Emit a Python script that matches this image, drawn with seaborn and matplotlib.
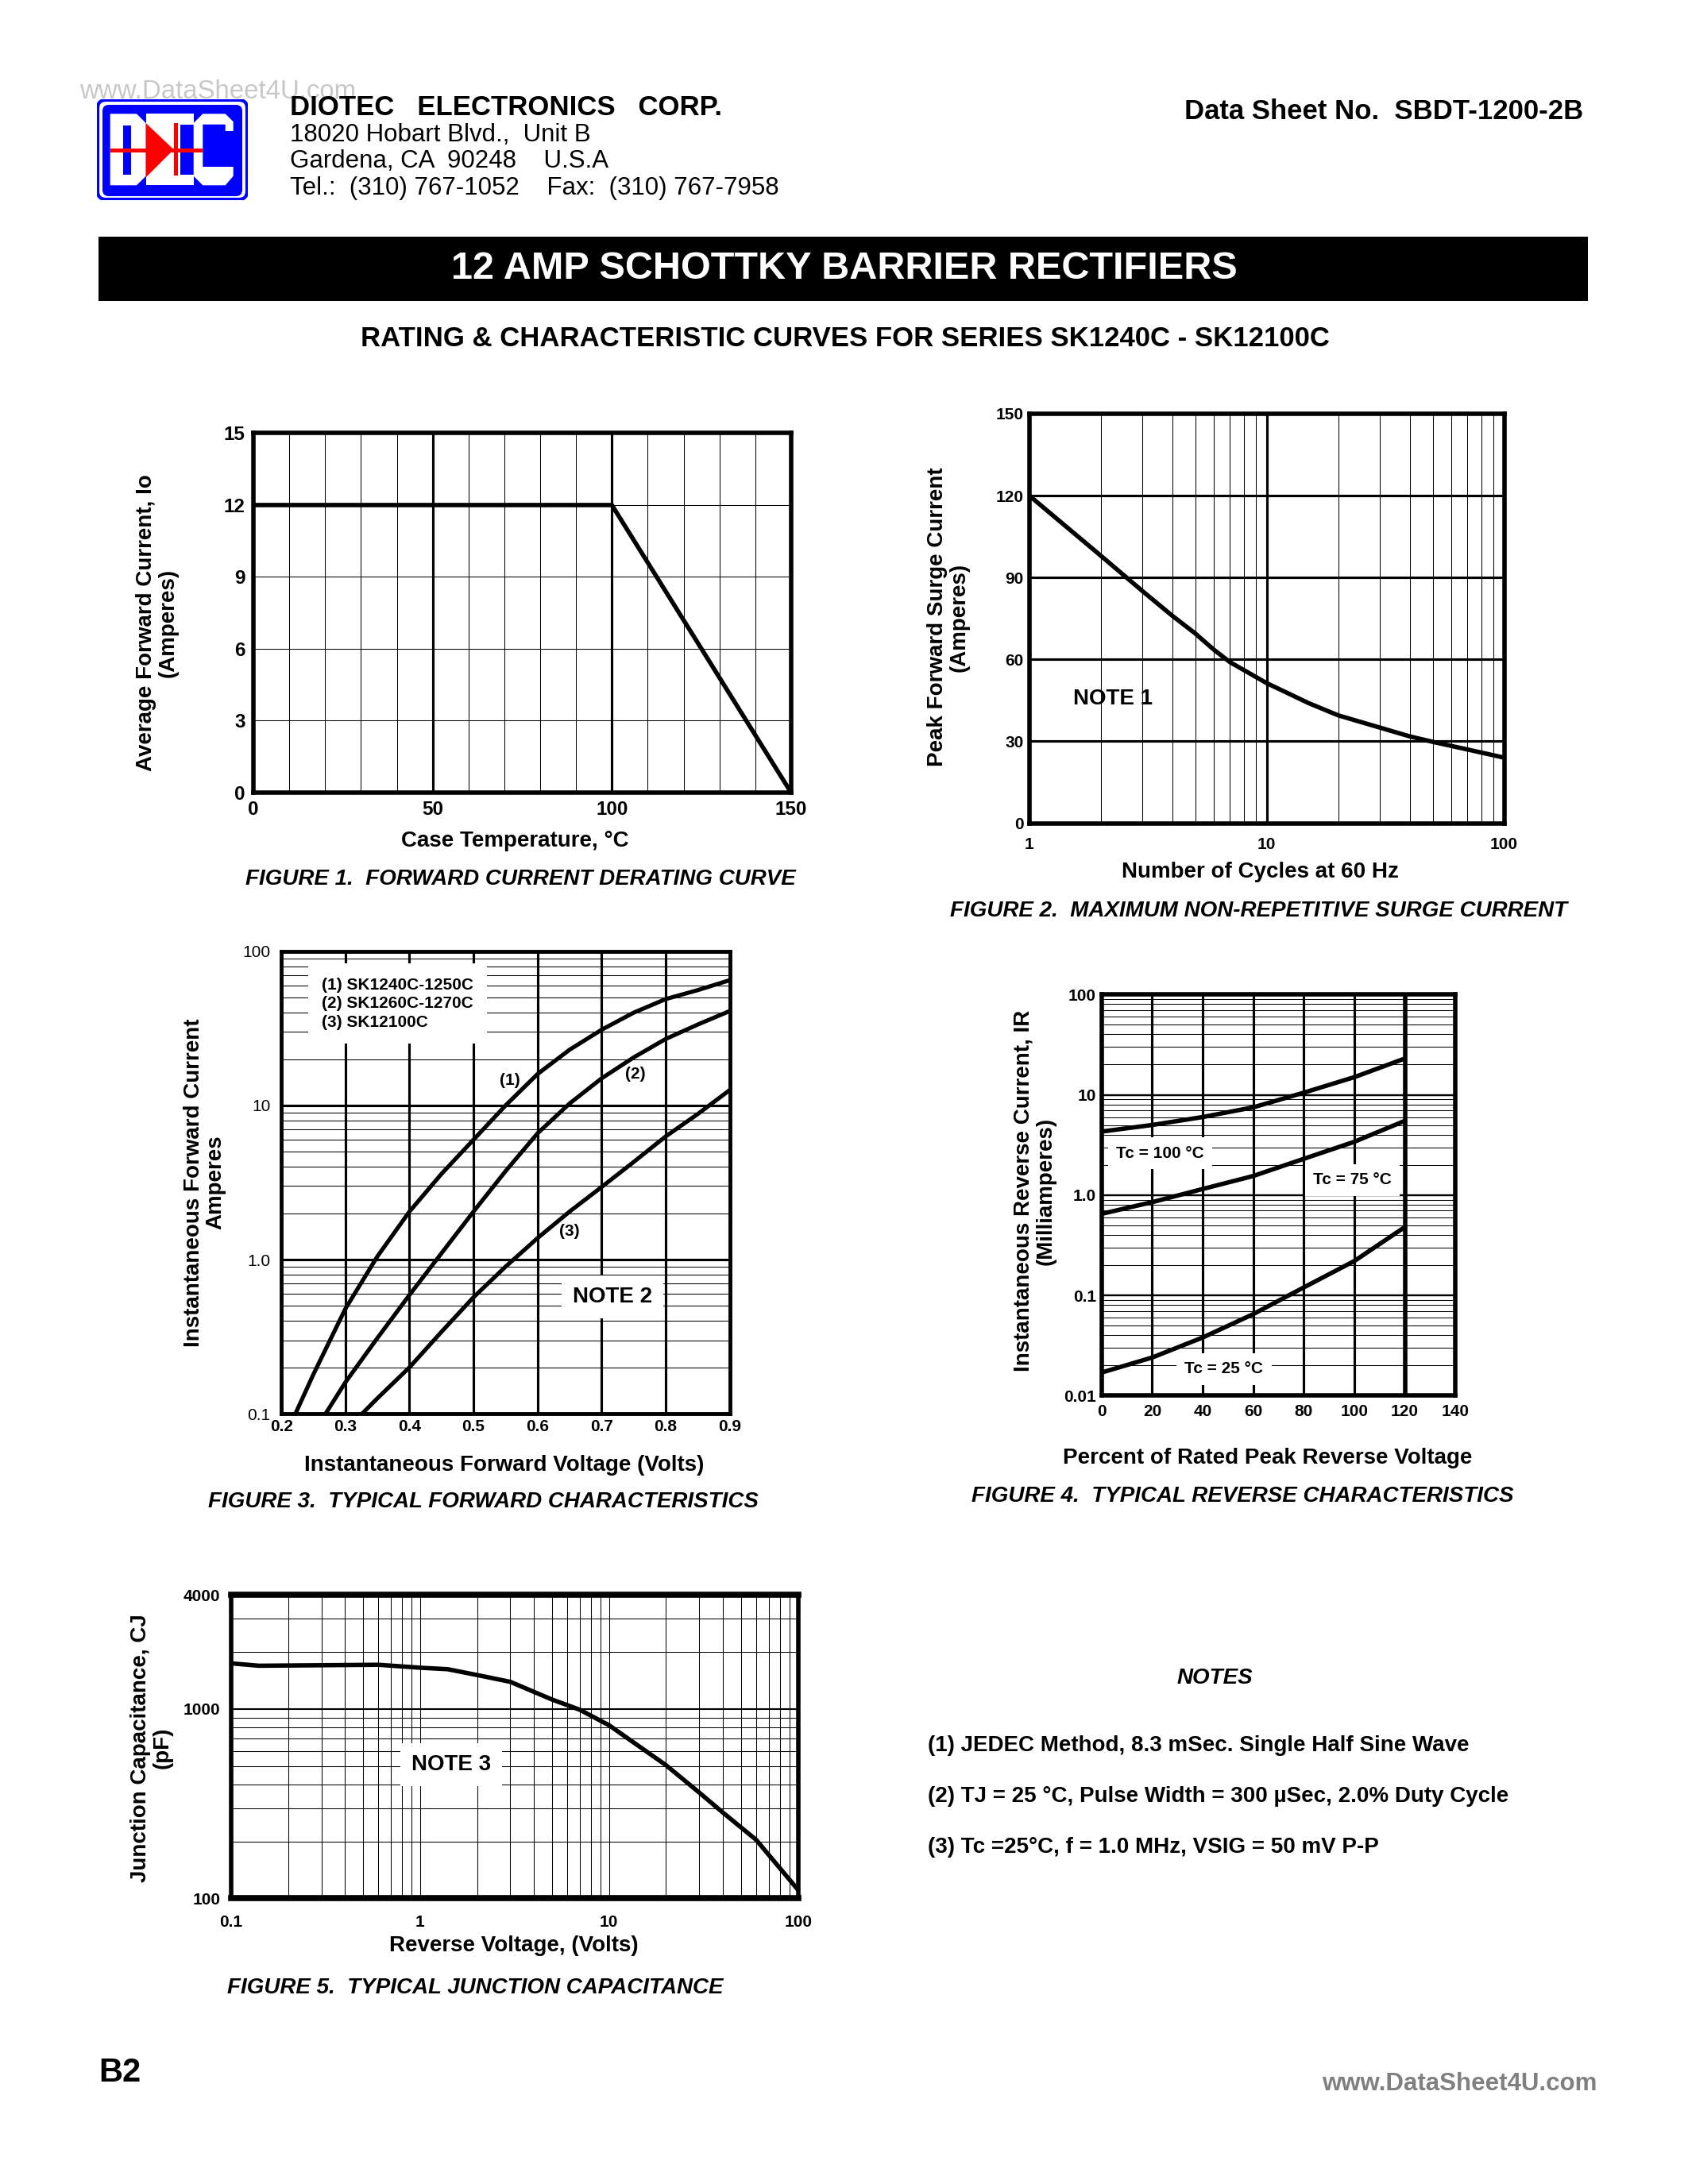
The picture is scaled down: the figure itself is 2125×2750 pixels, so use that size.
import matplotlib
matplotlib.use("Agg")
import matplotlib.pyplot as plt
import matplotlib.ticker as mticker
from matplotlib.patches import Rectangle, Polygon, FancyBboxPatch
import pandas as pd
import seaborn as sns

# Figure 1: forward current derating
derate_temp = [0, 100, 150]
derate_io = [12, 12, 0]

# Figure 2: surge current vs cycles
surge_cycles = [1, 2, 3, 4, 5, 6, 7, 10, 15, 20, 30, 40, 50, 70, 100]
surge_amps = [120, 98, 85, 76, 69.5, 63.5, 59, 51.3, 44, 39.5, 35, 31.8, 29.8, 27, 24]

# Figure 3: forward characteristics
fwd_names = ["(1)", "(2)", "(3)"]
fwd_v1 = [0.222, 0.25, 0.3, 0.35, 0.4, 0.45, 0.5, 0.55, 0.6, 0.65, 0.7, 0.75, 0.8, 0.85, 0.9]
fwd_i1 = [0.1, 0.18, 0.48, 1.05, 2.05, 3.6, 6.0, 10, 16, 23, 31, 40, 49, 56, 65]
fwd_v2 = [0.269, 0.3, 0.35, 0.4, 0.45, 0.5, 0.55, 0.6, 0.65, 0.7, 0.75, 0.8, 0.85, 0.9]
fwd_i2 = [0.1, 0.16, 0.31, 0.59, 1.1, 2.05, 3.75, 6.6, 10.3, 15, 20.5, 27, 33.5, 41]
fwd_v3 = [0.326, 0.35, 0.4, 0.45, 0.5, 0.55, 0.6, 0.65, 0.7, 0.75, 0.8, 0.85, 0.9]
fwd_i3 = [0.1, 0.126, 0.2, 0.34, 0.57, 0.9, 1.38, 2.05, 2.96, 4.3, 6.3, 8.8, 12.6]
fwd_legend = ["(1) SK1240C-1250C", "(2) SK1260C-1270C", "(3) SK12100C"]

# Figure 4: reverse characteristics
rev_pct = [0, 20, 40, 60, 80, 100, 120]
rev_names = ["Tc = 100 °C", "Tc = 75 °C", "Tc = 25 °C"]
rev_100c = [4.3, 5.0, 6.0, 7.5, 10.5, 15, 23]
rev_75c = [0.65, 0.85, 1.15, 1.55, 2.3, 3.4, 5.5]
rev_25c = [0.017, 0.024, 0.038, 0.065, 0.12, 0.22, 0.48]

# Figure 5: junction capacitance
cap_volts = [0.1, 0.14, 0.6, 1, 1.4, 2, 3, 5, 7, 10, 20, 30, 40, 60, 100]
cap_pf = [1740, 1690, 1710, 1650, 1620, 1510, 1390, 1120, 990, 820, 505, 362, 284, 204, 111]

notes = [
    "(1) JEDEC Method, 8.3 mSec. Single Half Sine Wave",
    "(2) TJ = 25 °C, Pulse Width = 300 µSec, 2.0% Duty Cycle",
    "(3) Tc =25°C, f = 1.0 MHz, VSIG = 50 mV P-P",
]

sns.set_theme(style="white", rc={
    "axes.edgecolor": "black", "text.color": "black", "xtick.color": "black",
    "ytick.color": "black", "axes.labelcolor": "black",
})
plt.rcParams["font.family"] = ["Liberation Sans", "DejaVu Sans"]
plt.rcParams["font.weight"] = "bold"

W, H = 1212, 1568  # layout grid (page pixels)


def fx(x):
    return x / W


def fy(y):
    return 1 - y / H


fig = plt.figure(figsize=(8.5, 11), dpi=250)


def add_axes(left, top, right, bottom):
    return fig.add_axes([fx(left), fy(bottom), fx(right) - fx(left), (bottom - top) / H])


def frame(ax, lw=1.6):
    for s in ax.spines.values():
        s.set_visible(True)
        s.set_linewidth(lw)
        s.set_color("black")
    ax.tick_params(which="both", length=0)
    ax.set_xlabel("")
    ax.set_ylabel("")
    ax.set_axisbelow(True)


def boxed(ax, x, y, s, size=6, pad=3, **kw):
    ax.text(x, y, s, transform=ax.transAxes, fontsize=size, ha="center", va="center",
            bbox=dict(facecolor="white", edgecolor="none", pad=pad), **kw)


def ticklabels(ax, size, xweight="bold", yweight="bold"):
    for t in ax.get_xticklabels():
        t.set_fontsize(size)
        t.set_fontweight(xweight)
    for t in ax.get_yticklabels():
        t.set_fontsize(size)
        t.set_fontweight(yweight)


# ---------- header ----------
fig.text(fx(57), fy(66), "www.DataSheet4U.com", fontsize=9.5, color="#c8c8c8",
         weight="normal", ha="left", va="center")

logo = fig.add_axes([122 / 2125, 1 - 252 / 2750, 190 / 2125, 127 / 2750])
logo.set_xlim(0, 190)
logo.set_ylim(127, 0)
logo.axis("off")
blue, red = "#0000ff", "#ff0000"
logo.add_patch(FancyBboxPatch((1, 1), 188, 125, boxstyle="round,pad=0,rounding_size=10",
                              fc="white", ec=blue, lw=1.2))
logo.add_patch(FancyBboxPatch((7, 7), 176, 115, boxstyle="round,pad=0,rounding_size=8",
                              fc=blue, ec="none"))
logo.add_patch(Polygon([(16.7, 18.3), (50, 18.3), (61.7, 30), (61.7, 96.7), (50, 108.3),
                        (16.7, 108.3)], fc="white", ec="none"))
logo.add_patch(Rectangle((33.3, 33.3), 10, 61.7, fc=blue, ec="none"))
logo.add_patch(Rectangle((61.7, 18.3), 60, 90, fc="white", ec="none"))
logo.add_patch(Rectangle((105, 31.7), 16.7, 63.3, fc=blue, ec="none"))
logo.add_patch(Polygon([(133.3, 18.3), (161.7, 18.3), (171.7, 28.3), (171.7, 40), (161.7, 40),
                        (161.7, 31.7), (133.3, 31.7), (133.3, 85), (171.7, 85), (171.7, 96.7),
                        (161.7, 108.3), (133.3, 108.3), (121.7, 96.7), (121.7, 30)],
                       fc="white", ec="none"))
logo.add_patch(Rectangle((16.7, 62.3), 116.6, 4.4, fc=red, ec="none"))
logo.add_patch(Polygon([(61.7, 30), (61.7, 98.3), (96.7, 63.3)], fc=red, ec="none"))
logo.add_patch(Rectangle((97.3, 30), 5, 65.7, fc=red, ec="none"))

fig.text(fx(208), fy(77), "DIOTEC   ELECTRONICS   CORP.", fontsize=10, ha="left", va="center")
for yy, line in zip([97, 116, 135], ["18020 Hobart Blvd.,  Unit B", "Gardena, CA  90248    U.S.A",
                                     "Tel.:  (310) 767-1052    Fax:  (310) 767-7958"]):
    fig.text(fx(208), fy(yy), line, fontsize=9, weight="normal", ha="left", va="center")
fig.text(fx(1137), fy(80), "Data Sheet No.  SBDT-1200-2B", fontsize=10, ha="right", va="center")

fig.add_artist(Rectangle((fx(71), fy(216)), fx(1140) - fx(71), (216 - 170) / H,
                         transform=fig.transFigure, facecolor="black", edgecolor="none"))
fig.text(fx(606), fy(193), "12 AMP SCHOTTKY BARRIER RECTIFIERS", fontsize=14, color="white",
         ha="center", va="center")
fig.text(fx(607), fy(243), "RATING & CHARACTERISTIC CURVES FOR SERIES SK1240C - SK12100C",
         fontsize=10, ha="center", va="center")

# ---------- Figure 1 ----------
ax1 = add_axes(182, 311, 568, 569)
df1 = pd.DataFrame({"temp": derate_temp, "io": derate_io})
sns.lineplot(data=df1, x="temp", y="io", ax=ax1, color="black", lw=1.6)
ax1.set_xlim(0, 150)
ax1.set_ylim(0, 15)
ax1.set_xticks([0, 50, 100, 150])
ax1.xaxis.set_minor_locator(mticker.MultipleLocator(10))
ax1.set_yticks(range(0, 16, 3))
ax1.xaxis.grid(True, which="major", color="black", lw=0.9)
ax1.xaxis.grid(True, which="minor", color="black", lw=0.3)
ax1.yaxis.grid(True, which="major", color="black", lw=0.3)
frame(ax1)
ax1.tick_params(axis="x", pad=3)
ax1.tick_params(axis="y", pad=3)
ticklabels(ax1, 7)
fig.text(fx(113), fy(447), "Average Forward Current, Io\n(Amperes)", fontsize=8, rotation=90,
         ha="center", va="center", linespacing=1.1)
fig.text(fx(370), fy(604), "Case Temperature, °C", fontsize=8, ha="center", va="center")
fig.text(fx(374), fy(631), "FIGURE 1.  FORWARD CURRENT DERATING CURVE", fontsize=8,
         style="italic", ha="center", va="center")

# ---------- Figure 2 ----------
ax2 = add_axes(739, 297, 1080, 591)
df2 = pd.DataFrame({"cycles": surge_cycles, "amps": surge_amps})
sns.lineplot(data=df2, x="cycles", y="amps", ax=ax2, color="black", lw=1.6)
ax2.set_xscale("log")
ax2.set_xlim(1, 100)
ax2.set_ylim(0, 150)
ax2.set_xticks([1, 10, 100], ["1", "10", "100"])
ax2.xaxis.set_minor_locator(mticker.LogLocator(base=10, subs=range(2, 10), numticks=50))
ax2.xaxis.set_minor_formatter(mticker.NullFormatter())
ax2.set_yticks(range(0, 151, 30))
ax2.xaxis.grid(True, which="major", color="black", lw=0.9)
ax2.xaxis.grid(True, which="minor", color="black", lw=0.3)
ax2.yaxis.grid(True, which="major", color="black", lw=0.9)
frame(ax2)
ax2.tick_params(axis="x", pad=5)
ax2.tick_params(axis="y", pad=2)
ticklabels(ax2, 6)
ax2.text(0.176, 0.303, "NOTE 1", transform=ax2.transAxes, fontsize=8, ha="center", va="center")
fig.text(fx(681), fy(443), "Peak Forward Surge Current\n(Amperes)", fontsize=8, rotation=90,
         ha="center", va="center", linespacing=1.1)
fig.text(fx(905), fy(626), "Number of Cycles at 60 Hz", fontsize=8, ha="center", va="center")
fig.text(fx(904), fy(654), "FIGURE 2.  MAXIMUM NON-REPETITIVE SURGE CURRENT", fontsize=8,
         style="italic", ha="center", va="center")

# ---------- Figure 3 ----------
ax3 = add_axes(202, 683, 524, 1015)
df3 = pd.concat([
    pd.DataFrame({"volts": v, "amps": i, "device": n})
    for v, i, n in zip([fwd_v1, fwd_v2, fwd_v3], [fwd_i1, fwd_i2, fwd_i3], fwd_names)
])
sns.lineplot(data=df3, x="volts", y="amps", hue="device", palette=["black"] * 3, ax=ax3,
             lw=1.5, legend=False, errorbar=None)
ax3.set_yscale("log")
ax3.set_xlim(0.2, 0.9)
ax3.set_ylim(0.1, 100)
ax3.set_xticks([0.2, 0.3, 0.4, 0.5, 0.6, 0.7, 0.8, 0.9])
ax3.set_yticks([0.1, 1, 10, 100], ["0.1", "1.0", "10", "100"])
ax3.yaxis.set_minor_locator(mticker.LogLocator(base=10, subs=range(2, 10), numticks=50))
ax3.yaxis.set_minor_formatter(mticker.NullFormatter())
ax3.xaxis.grid(True, which="major", color="black", lw=0.9)
ax3.yaxis.grid(True, which="major", color="black", lw=0.9)
ax3.yaxis.grid(True, which="minor", color="black", lw=0.3)
frame(ax3, 1.4)
ax3.tick_params(axis="x", pad=2)
ax3.tick_params(axis="y", pad=4)
ticklabels(ax3, 6, yweight="normal")
ax3.text(0.09, 0.887, "\n".join(fwd_legend), transform=ax3.transAxes, fontsize=6, ha="left",
         va="center", linespacing=1.3, bbox=dict(facecolor="white", edgecolor="none", pad=5))
for (x, y), name in zip([(0.509, 0.720), (0.789, 0.735), (0.643, 0.395)], fwd_names):
    ax3.text(x, y, name, transform=ax3.transAxes, fontsize=6, ha="center", va="center")
boxed(ax3, 0.739, 0.253, "NOTE 2", size=8, pad=4)
fig.text(fx(147), fy(849), "Instantaneous Forward Current\nAmperes", fontsize=8, rotation=90,
         ha="center", va="center", linespacing=1.1)
fig.text(fx(362), fy(1052), "Instantaneous Forward Voltage (Volts)", fontsize=8,
         ha="center", va="center")
fig.text(fx(347), fy(1078), "FIGURE 3.  TYPICAL FORWARD CHARACTERISTICS", fontsize=8,
         style="italic", ha="center", va="center")

# ---------- Figure 4 ----------
ax4 = add_axes(791, 714, 1045, 1002)
df4 = pd.concat([
    pd.DataFrame({"pct": rev_pct, "ma": vals, "temp": n})
    for vals, n in zip([rev_100c, rev_75c, rev_25c], rev_names)
])
sns.lineplot(data=df4, x="pct", y="ma", hue="temp", palette=["black"] * 3, ax=ax4,
             lw=1.6, legend=False, errorbar=None)
ax4.set_yscale("log")
ax4.set_xlim(0, 140)
ax4.set_ylim(0.01, 100)
ax4.set_xticks(range(0, 141, 20))
ax4.set_yticks([0.01, 0.1, 1, 10, 100], ["0.01", "0.1", "1.0", "10", "100"])
ax4.yaxis.set_minor_locator(mticker.LogLocator(base=10, subs=range(2, 10), numticks=50))
ax4.yaxis.set_minor_formatter(mticker.NullFormatter())
ax4.xaxis.grid(True, which="major", color="black", lw=0.9)
ax4.yaxis.grid(True, which="major", color="black", lw=0.7)
ax4.yaxis.grid(True, which="minor", color="black", lw=0.3)
ax4.axvline(max(rev_pct), color="black", lw=1.6)
frame(ax4)
ax4.tick_params(axis="x", pad=3)
ax4.tick_params(axis="y", pad=2)
ticklabels(ax4, 6)
for (x, y), name in zip([(0.165, 0.604), (0.709, 0.538), (0.346, 0.066)], rev_names):
    boxed(ax4, x, y, name, size=6, pad=3)
fig.text(fx(743), fy(855), "Instantaneous Reverse Current, IR\n(Milliamperes)", fontsize=8,
         rotation=90, ha="center", va="center", linespacing=1.1)
fig.text(fx(910), fy(1047), "Percent of Rated Peak Reverse Voltage", fontsize=8,
         ha="center", va="center")
fig.text(fx(892), fy(1074), "FIGURE 4.  TYPICAL REVERSE CHARACTERISTICS", fontsize=8,
         style="italic", ha="center", va="center")

# ---------- Figure 5 ----------
ax5 = add_axes(166, 1145, 573, 1363)
df5 = pd.DataFrame({"volts": cap_volts, "pf": cap_pf})
sns.lineplot(data=df5, x="volts", y="pf", ax=ax5, color="black", lw=1.6)
ax5.set_xscale("log")
ax5.set_yscale("log")
ax5.set_xlim(0.1, 100)
ax5.set_ylim(100, 4000)
ax5.set_xticks([0.1, 1, 10, 100], ["0.1", "1", "10", "100"])
ax5.set_yticks([100, 1000, 4000], ["100", "1000", "4000"])
for axis in (ax5.xaxis, ax5.yaxis):
    axis.set_minor_locator(mticker.LogLocator(base=10, subs=range(2, 10), numticks=50))
    axis.set_minor_formatter(mticker.NullFormatter())
ax5.grid(True, which="both", color="black", lw=0.3)
ax5.yaxis.grid(True, which="major", color="black", lw=0.6)
frame(ax5)
ax5.spines["top"].set_linewidth(2.2)
ax5.spines["bottom"].set_linewidth(2.2)
ax5.tick_params(axis="x", pad=6)
ax5.tick_params(axis="y", pad=4)
ticklabels(ax5, 6)
boxed(ax5, 0.388, 0.440, "NOTE 3", size=8, pad=4)
fig.text(fx(109), fy(1255), "Junction Capacitance, CJ\n(pF)", fontsize=8, rotation=90,
         ha="center", va="center", linespacing=1.1)
fig.text(fx(369), fy(1397), "Reverse Voltage, (Volts)", fontsize=8, ha="center", va="center")
fig.text(fx(341), fy(1427), "FIGURE 5.  TYPICAL JUNCTION CAPACITANCE", fontsize=8,
         style="italic", ha="center", va="center")

# ---------- notes & footer ----------
fig.text(fx(872), fy(1205), "NOTES", fontsize=8, style="italic", ha="center", va="center")
for yy, line in zip([1253, 1290, 1326], notes):
    fig.text(fx(666), fy(yy), line, fontsize=8, ha="left", va="center")

fig.text(fx(71), fy(1488), "B2", fontsize=12, ha="left", va="center")
fig.text(fx(1147), fy(1496), "www.DataSheet4U.com", fontsize=9, color="#808080",
         ha="right", va="center")

fig.savefig("out.png", dpi=250)
plt.close(fig)
